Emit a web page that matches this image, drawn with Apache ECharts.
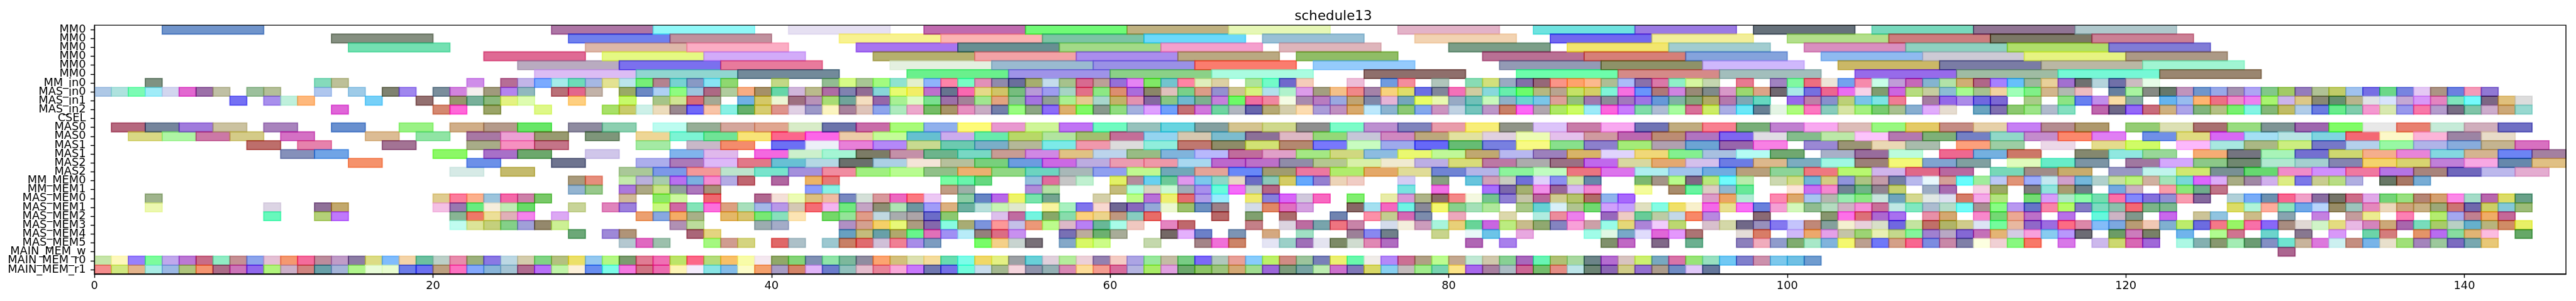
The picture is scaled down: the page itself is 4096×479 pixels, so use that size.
<!DOCTYPE html>
<html><head><meta charset="utf-8">
<style>html,body{margin:0;padding:0;background:#fff}#c{width:4096px;height:479px}</style>
<script src="https://cdn.jsdelivr.net/npm/echarts@6/dist/echarts.min.js"></script>
</head><body><div id="c"></div>
<script>
const chartTitle = 'schedule13';
const rowLabels = ['MM0','MM0','MM0','MM0','MM0','MM0','MM_in0','MAS_in0','MAS_in1','MAS_in2','CSEL','MAS0','MAS0','MAS1','MAS1','MAS2','MAS2','MM_MEM0','MM_MEM1','MAS_MEM0','MAS_MEM1','MAS_MEM2','MAS_MEM3','MAS_MEM4','MAS_MEM5','MAIN_MEM_w','MAIN_MEM_r0','MAIN_MEM_r1'];
const rowDurations = [6,6,6,6,6,6,1,1,1,1,1,2,2,2,2,2,2,1,1,1,1,1,1,1,1,1,1,1];
const xTicks = [0,20,40,60,80,100,120,140];
const xMax = 146;
// each run: [start, colour of 1st bar, colour of 2nd bar, ...], consecutive bars follow each other
const mm0a = [[4,'7094cb'],[27,'ad75a5','90f8f8'],[41,'e6e0f2'],[49,'c06aaf','70fb76','bfb180','e6f7b6'],[77,'e3b3c8'],[85,'6ee3e0','9b7ae3'],[98,'62717b'],[105,'77d9bc','907493','afc8cc']];
const mm0b = [[14,'858f80'],[28,'7080ee','c0919e'],[44,'f8f290','fcb3b3','7cc4a4','6cd9fa'],[69,'99c0d6'],[78,'f2d3b2'],[86,'7268ef','f2ee9a'],[100,'b3df8b','cc7d7e','7c7865','cb8095']];
const mm0c = [[15,'74e0b2'],[29,'deb8a9','fbadc4'],[45,'a875f0','688f92','a2da88','f4a0cd'],[70,'deb5bb'],[80,'7b9e88'],[87,'f2e66e','a1ccd0'],[101,'d98fbf','8fd1c0','b0de6b','817cd6']];
const mm0d = [[23,'df6a94'],[30,'e5f983','d2abf9'],[46,'b5b06e','f3a2a6','aa8ded','baa982'],[71,'90bd66'],[82,'b97094','d67f78','85a3dc'],[102,'8fbaf0','cdcad5','e6f382','ac9986']];
const mm0e = [[25,'b9abc0','7b70ee','e87a9c'],[47,'e4f0e0','9abad0','9a91e6','fb7c6e'],[72,'95cbfc'],[83,'939ab5','8e9268','cfb8fc'],[103,'cbb862','7a7ca5','bab7a4','a0f5d2']];
const mm0f = [[26,'dcbcf4','90d6d0','728a9a'],[48,'6af08c','9f93e8','8bd187','aafce0'],[75,'8f6f6c'],[84,'6dfdab','d58a88','a2bebc'],[104,'976bea','9fbca3','76f8d6','9a8670']];
const mmIn0 = [[3,'7f9282'],[13,'85dabb','bdc098'],[22,'cf8de9'],[24,'b66d96','c2b5e8','7aaaff','a5ecea','6edbb8','a6b8e4','e3e292','bbe5ec','76ee78','b48390','77d2d2','8899c4','88e4f4','8ed870'],[40,'c2d886'],[43,'92bc92','d6fb88','a8c794','a2fb80','90e3d0','e3f0cc','8fb4fb','fd84a8','78fcc4','e290b8','908aac','6a6e9c','a6ae6e','c4dcec','a6c28c','d86a90','bca097','9570d8','e484f4','80e860','72c4ce','ff84a4','dfeebc','dcd0a4'],[68,'ade49a','72fbc8','7069cc','f5ccba'],[74,'edbdd8'],[76,'709bdf','f48d9c'],[79,'b0c5bb'],[81,'88dcb4','d2e07c','9aaac2','8270a8','966878','fa9488','fea36c','fcb98e','aebe94','abbcf8','8a70aa','da78a8','8ff0c8','d6f8a0','c4d6b0'],[97,'e87a90'],[99,'a082c0','80f8a0','ee6e80','ede5d8','74a2ee','f68aac','c8fee8','c09cd8','c668b8','84b4d0','b2e2a8','d0ae74','b06088','a680ff','66c0fa','9cb89c','e8d09a','a270d0','6e7070','b5d4dc','7070a8','ccbcc0','e6fce8']];
const masIn0 = [[0,'aec8e6','aee2de','7cfbb4','a0ecf8','d2d6ef','e268d0','9c70a8','c0c0a4'],[9,'9cc09c','b4bf98'],[13,'afc6ee'],[15,'9ecbe8'],[17,'7f8270','a087ee'],[20,'7a8e9c','d283de','f5f0ee','a09a7c','b484ee','90b8be'],[27,'b97078','e3658c','c2b2a8'],[31,'9aaa66','6c88c4','aed0f4','8efc80','9ec4de','ad6884','b0cc9e','f6ac82','a59068','66d6a8','d0b6da','baba8c','ae6ca4','8082b0','926c94','88d6d8','e8fb70','f2ee62','bf70cc','66748f','f968b0','e4da88','d0c468','76bd7e','b89ad8','9e9cf0','a6d4c4','e27088','8ce884','dc8e70','aa6cdc','8a8668','dfc0bc','78d08a','dc9c88','9490d0','cdc490','d6f27e','b2e0ec','b0f2cc','dc9cea','a39e80','f4c088','f08888','a482a8','f8d27c','dede6a','6c70e4','80869a','f470b8','d0cca0','88d8dc','68eeac','6cfc6c','b6b880','b8a490','c4e264','d4ce66','80f4d8','f670e0','6a94fc','ae7878','d084e0','988a76','7f8a8a','d898c8','9bd870','dca488','706870','aae8e8','7670e0','ec6690','ea6ef0','f6d2e8','809c70','cc64e0','b6dc80','c6cda0','8cbcd4','a8fb90','a6c290','f2d2a0','a0ffb8','80f088','d2b68c','b0bab0','ecbcc0'],[119,'64809f','a8f4a0','868a84','66786a','c094bc','7096cc','98a8e8','a490b0','aea4f4','82c88a','a2ca64','947cbc','b0c294','c0cc68','a0c2ee','766ee4','6cd888','7884e0','e4c8f4','ac9484','6c80e0','f49ab8','9078d4']];
const masIn1 = [[8,'7470f4'],[10,'a88fec','bff0dc','feb87c'],[16,'76d0f8'],[19,'937070'],[21,'96966c','78b09a','8ab87c','e4f282','defcb0'],[28,'fecf80'],[31,'c6fa6a'],[33,'a6c488','d0e494','d66a78','a4a894'],[38,'70b0e4','d4c868','ecf6d4','9e7080','b892b8','a8dc74','70a49a','f4dec0','9664a8','a8f094','dcfbc4','7ae090','9c70a8','a38298','a0e690','e2a480','88c294','a474e0','909f94','aaf090','e6ca90','a8d6cc','c2b268','e292b0','8468a0','88c684','70b8d0','7cb090','c480da','6cfb60','f06ea0','f088a0','f4fce4','a88aae','b87cc0','9aa8e0','c0a472','8088a8','e4b4d6','74a6bc','e8fe58','e8f8b0','98aac4','70c0b8','c8f8bc','90b0c8','6cd4d0','7ac6e8','dca098','94c07c','a078b0','8c8c98','a278bc','9e74e4','6498d8','7fb4a4','84a478','b0aa64','b478ac','7ea8b4','64d8c0'],[100,'9868ec','bc80a8','8890cc','bcd078','7ac4e8','7ee4e4','f07c94'],[108,'a47ca0','9468e8','ac8ce8','7068e0','7c68d4'],[114,'a8cc88'],[116,'8ce484','6880f0','c08eea','f8dca4','88aca2'],[122,'62b4ee','98bcee','feb470','ec7084','ee8ac8','ec80f0','a8f470','ccb4ec','dcc888','888874','669070','b8b48c','e0e2e6','d8e4fc','c4a8d4','d898f8','e484c0','80e4bc','74fafc','7c6484','e0c07c','dcdcdc']];
const masIn2 = [[14,'e062d8'],[20,'d48870','ff68d8'],[23,'9aa468'],[26,'def888'],[30,'a8e068','c8cc6c','cdf0e8','ecdcbc','9a8890','7068f8','f8c4a8','88f0e4','66b06c','d6cc70','de948c','e0d0e4','9c98c8','fbf4c0','a8829c','dec4ba','8ea4ec','aeeabe','eca8cc','74bc60','a89468','e690c0','c8acc4','7480aa','98fc80','8ca684','8c6cf8','dcb06c','80f860','88988c','90dc80','a4b0de','dea0ff','70a0fa','c47074','d078dc','6ed4a0','b0b6c0','6866ac','b6aa74','d4ceac','fcdcb0','aa9cd8','c090c0','d8a96c','bce8fc','8cb4d0','8cc874','84a8ec','cc94c0','c0d2e2','74c4bc','bc96c8','c88068','fc68f4','b0a6ae','aee866','ccfc60','9ceaf8','fc64dc','c87cfc','80dca8','aebcd4','a8fca0','d87098','ccec58','aaaee4','6ce8f8','688094','e4f4e4','aefc7c','fc78c0','88ccbc','d6e4a4','a4f080','78cc70','a8c090','88aed0','e0acfc','e6dcd0'],[111,'6aa4c0','8070b0','8cc870','9ce488','b0bacc','84dfc0'],[118,'be60ac','6e6888','9468f8','c86c7c','ceb080','aca4e8','80b47c','b4c084','78f070','84f4e4','84b878','c0bc60','b0cce8','6c7ce0','68ec8c','80ccac','f498d0','d8e8b0','9898ec','f878a8','b49ccc','786e84','80c4a8','ccaccc','cca878','98d8d0']];
const csel = [];
const mas0a = [[1,'b5687e','75859c','a07bdc','cbc2a0'],[10,'a883bd'],[14,'6990cf'],[18,'9af285'],[21,'d0ae88','b49a8a','68e668'],[28,'8e8ba0','8ccfb0'],[33,'bcfcf0','96ae96','d4a69c','e0a690','d8ecc8','6c74aa','c86ca8','a8fb78','90b0ec','fefb78','e898d0','cff598','c074f4','70fbc0','96c2bc','68d4e0','84a0a0','d4c490','cfd88c','8e8e8e','7cfcc8','bc90d0','8084bc','e89caa','f8ee78','909488','dcc4fa','c87ca8','f8a8f0','7074b4','c0ac80','f88090','78ae78','c080d0','f8a8f0','dcbcb8','98f880','e4ca66','c48c84','e6d0a8','c680f4','b48c90','ae986c'],[120,'94cc74','dce0b4','a87070','98dc80','7e9494','9e64ae','80fc64','e8e8e8','e88070','c6ebd8','d0aebc','7070c4']];
const mas0b = [[2,'d9d884','aef5a4','cc78a6','d4cb88'],[11,'d470c4'],[16,'dcbc94'],[19,'90e4a4'],[22,'a878a4','eca0d4','989a70'],[29,'7e967a'],[32,'eed696','7cf4d4','70e496','f8e478','fc648c','fc64e8','eccca8','c4fc98','66c0d0','ccacec','68eaac','b8d868','b2e4a0','a2be70','c46e98','94d4f0','d6c8b0','7cbcce','8c7098','deb8c4','94d878','c6c6d8','d088c0','bca87c','e2e2a0','e0d0e0','ecfcb4','e4c0ec','d09aa0','bc68b0','bc8c74','b074c0','7e60f0','e0dce4','84bc8c','bce8a8','fcc4fc','b478b0','7eb078','7480c4','90d8c8','c48ccc','fc886c','e07ef4'],[121,'7090e8','e0dc80','d868f4','a4dff4','b8e4e4','80d4e0','f46874','fcf8c8','fcb4d8','9c84a4','e8dcc8']];
const mas1a = [[9,'bd6e6b'],[12,'e682ac'],[17,'a37394'],[22,'a8ac88','f690c0','c47488'],[32,'a4eaa4'],[35,'c8b8c8','f48c6c'],[40,'6c70f4','ecf0f8','e880d8','b488f8','c8da90','6ccab0','7aaec8','b4b898','7ceae8','f098ac','dcdcdc','90eedc','c07870','8e8c68','d2e274','b48870','7878fc','c8fcc0','9eaaec','6468f8','64bc74','7880e0','f8fa84','88e08c','8c80cc','a4ec78','b0a0b0','6ca4d4','9860ac','f880e4'],[101,'9a88d4','9a9474','ead8b4','a8bcac'],[110,'fca07c','9ccea4'],[115,'ecd8e8'],[118,'e4dc8c','d0fc60'],[123,'fcb8fc','a8e8e0','aab884','ccee80','7678c8','b4d0ec','98f8a4','b0b4e8','88acdc','c4b490','d870c0']];
const mas1b = [[11,'8590ba','70a4e6'],[20,'8cf862'],[23,'a870c8','6ca86c'],[29,'d0c6ea'],[34,'80b4ec','e0b8ec'],[39,'f468e0','ccf0cc','a4f5d4','7c7c64','c490a8','6cb48c','78d8c4','c89c94','d088e4','e0c284','bcd4ec','98bc84','80b4dc','b8b8fc','c06c9c','e0a0c8','a4e884','d0d880','8cbce0','eaf870','c0f898','c0a870','b8b8f0','9c80bc','d8b468','e0d4fc','f0d878','84f090','a8c0e0','b4fcf4','70a870'],[102,'a8b0c8','986c9c','bcfcdc'],[109,'ee6890','74b0e0','cc7868'],[117,'84886f','90e8e0','98d898'],[124,'f6ac74','747480','a8f4b8','7470d0','ced870','f5ae8c','e884d8','84d8e0','d4b490','6c84f4','a480a0']];
const mas2a = [[15,'f5926c'],[22,'6c90e8'],[27,'6e748f'],[32,'acaeec','ac7ab8','ddb8f8','e27888','68c0d4','b4d8e4','6a706c','acd0e4','f4e4d8','b6c09c','78d07c','6c9ce0','cc68e4','bcace0','ec9cb0','ee98a8','a8d8f0','bc68cc','bc70c8','908ca8','b4c890','d8f0a8','f0ead0','bcaee4','d8dc78','bc78a4','acacac','9a7084','c068ec','d8d8a0','e4a870','d4c0ec','6c7ce4','dcb88c','7cacc0','a0f8e4','9c8078','f4f878','80a4d0','80a0a0'],[113,'e0fcbc','68ecc8','7c94a4'],[120,'a078a0','d4a8fc','8cc888','708870','b0e8d0','a4d0d0','8484b0','f4d46c','d8d470','c080d8','f8a8e4','6488ac','e0c084']];
const mas2b = [[21,'d6eae6'],[24,'c4ba6c'],[31,'aac898','7c98e8','f49898','bce4cc','78e4cc','a490dc','f08ca0','a0f080','b8fc90','90c088','ecb070','90d884','6cd4c0','a8b8b8','90a0f0','c0f890','70a8b8','e4a498','6888f8','a09c70','ec78a0','b0ec6c','e4a868','e0dc98','7084d4','b4b4e8','8cf49c','c0fcc0','ec7480','dc74ec','aeeef0','a0c4ec','70ace0','b8a07c','8cd498','ee7880','b8f870','d0b4ec','e06888','b868a0'],[112,'78d8b8','a08c88','c8ac6c'],[119,'9898c4','c0f4ec','d0e870','789094','64d870','f08cc8','d090fc','f078a0','b474e4','a8847c','7068bc','bcb8ec','e4acd0']];
const mmMem0 = [[28,'a89a7c','e68e7c'],[31,'c4eaac','bab0dc','a8ccac','b870f0','7cb0e0','f48cd0','b4ace4','c06470'],[40,'b064a0'],[42,'ecb464','e67878'],[50,'78fca4','68f4ac','64d880'],[55,'94c0dc','e06c9c','c6c6c6','c0f0d0'],[60,'e2f060','b48c9c','68d0f0','6cc898','e098ec','7cc8ec','8cd8c8','e8d8c4','6c6cc4','8cc8b8','d4cc64','64a8fc','9480d0','ecd4b8','f0ccc4'],[77,'d4ccf4'],[79,'88a080'],[81,'68c4dc','d0a0b8','c8ccc0','7070d8','e0d0fc','8c90f0','cee4a4','6488aa'],[91,'7cb870','a49488','b8fc8c','806884','b8e87c','70fcfc','b8ecac'],[99,'ccd8b0','d0dc88','70b4d8','d4cc84','9094dc','acc484','c49ca8','7480a4','b8b8ec','e8f8fc','d4a098','68fcfc','a0ec9c','bcc8f4','e09478','9cacfc','c4e8f0','d0a0cc','74b8dc','b0d0cc','c8e0a0','bcf47c','d0b0a0','a4e4b8','78d8d8','dc64fc','dcacf8','a8ac84','a088a4','d0b0ec','dcec84','7c78e8','c8cc90','b8dc84','b0aee0'],[135,'687866','a87860','78acd4']];
const mmMem1 = [[28,'94b4d0','98c88c'],[31,'ac78dc','aca884','c8e488','90a09c','ac78bc','a89078'],[42,'8c9cfc','88f0e4'],[50,'c09c84','9cb0a8'],[55,'b08cd8','b4e0a4'],[60,'c4bc7c','b0fcdc','d8d4c0','ccf8d4','a0acb8','a890ec','68fcdc','f46cf8','c0ccc8','b46484'],[77,'78e4e0'],[79,'f070e4'],[82,'a870fc','7c68ac','a4b070','f090e8','985c98','d8b8f0','f088d0'],[91,'f4fc9c'],[93,'a88c6c','68f4a0','dcccc4','90b8d0','68e898'],[100,'fce4d8','c870f0','f488d0','708494','70b488','908490','c4d070'],[108,'9cacc4','a86cb0'],[111,'f6d0e4','9ca864'],[114,'807c80','90e4dc','a89c70','6e8088'],[119,'74a8e0','ccb0c0'],[122,'f89ca8','8ce878','70ac8c','c07488']];
const masMem0 = [[3,'9fb48c'],[20,'dfcc90','fc7c9c','fcb08c','9cc4dc','f468a8','cc80a8','78c868'],[31,'d0b898'],[33,'8ce868','ccf8a0'],[36,'f06870'],[39,'b06890','f4e0d8','ecfcb4','dcc080','f0bca4','7888c0','d4e0d8','d8989c','ec68c0','fc7880','ecc8f4'],[51,'8ccca4','6484c4','b868e8','eef468','78e4ac','74a490'],[59,'d4cfa8'],[61,'bcfc88','b870d8','eef070','e46c70','b09ce8','98ecfc'],[68,'eeea70','8880dc','d864f8','d0c8dc','f868c0'],[74,'80ee70'],[76,'e8eca8','d898d8','aeb488','8a6c68','f48888','f4f8e0','74c490','9080d4','c4c4a8','b8689c','d0cc90','b4c46c','b06c68','90b4ec','a868fc'],[95,'dc9cc8','eca464','b0ecd4'],[99,'fc88b0','dca86c','a8c4f0','b4b8b0','98ecb0','8ce884','c8e4dc','70a4bc','d4d890','e0e8e4','dce0f0','d47c68','f4a8e8','b4e480'],[114,'74dc74','d89cf8','b0e8c8','8cfca8','74dcb0','fc70a8','8488fc','8470dc','9090d4','f89cb0','84689c'],[126,'b0d0d8','78acf8','6c90b0','f86490','f0a0c8','886ca0','747468','cc6c88','e0a8e8','74d478','98e080','b48474','d4a070','fc88e8','a4dcc8','b864ac','dcdc64','68a088']];
const masMem1 = [[3,'ecf8b0'],[10,'dcd4e4'],[13,'8f7098','c2a86c'],[20,'f4c0e4','9878b0','68ec80','f6eedc','c0ecb4','68dc68'],[28,'c8d498'],[30,'e084bc','9c80dc'],[33,'c8f880','d068a4','84e4b8','fc70dc','dca080','a8dfbc','a4b8e8','b898e8','d4c8b4','f46c74','f4b4f0','70e880','c4a4c4','8e8e74','aee4b4','6e96a0','a09cf8','dcb080','6cb0a0','b8e0dc','c8f4b4','e0e8cc'],[56,'f8f4a0','a8f0c0','8074ec','f8d8d0','706894','8868bc','94a8d8','ecf8d0','9cc06c','6c90c0','9c8088'],[68,'d4dce8','e08860','e070c0','d4a0e0'],[74,'886864','a4e0f0','f468c0','70f4e4','888898','f4f870','88d08c','a4e0b8','b0e89c'],[84,'a8c888','64d0d4','d8f0f8','b0c490','70d870','d0a0fc','c4a0fc','e0e0c0','84fce4','f0e068','f8f0cc','f468e8','e8e090','f870f4','6880dc','f4a0d4','d4f8bc','90bc90','b4dcc0','d0b0c4','f490d8','c87098','c0e8e4','80e8c0','acbcd0','b4dcc8','74fcf8','a89094','88fc84','b898f0','6474c8','f884a8','b4fc48','847cc4','7cdcc0','8cc0ac','f46874','7cb488','7cb890'],[126,'dcdc64','b0f4d8','feac9c','8ce4bc','70a8e8','b8d4fc','988c64','9cc4bc','e488bc','ecd8bc','cca47c','c8b084','9ca878','cc7474','7068ac','ccd064','84c8d8','9cbc78']];
const masMem2 = [[10,'68f8bc'],[13,'b4d078','c078fc'],[21,'88b494','ee7868','ecdf98','e0b0b8','f484ec'],[27,'dca8f4'],[32,'eca070','88a8e0','f4ac64','a8b088'],[37,'e4b868','d8c470','78e874','88e0bc','fce4b4'],[43,'74d868','94e498','e09c88','c0d8e0','a8acae','aca4a8','6c6cc8','8cc870'],[53,'dcc0ec','c06ca0','74f4e0','88a868','88dcac','fcd07c','ecd48c','c09880','88ccc0','e86c68'],[66,'b86868'],[68,'80a070'],[70,'ac6c6c'],[73,'7084b0'],[75,'fc90a8','c4cc90','d468b4','7c8cac'],[80,'eca8bc'],[83,'dcd8ac'],[85,'b0ece0','ec8c9c','ec80ec'],[89,'9868bc','eeccc4','68cc98','bccca4','c4d8e8','f88868','b888e0'],[98,'8a6a74'],[102,'88966f','fc70e8','dc7078','ac68d0','a870f0'],[108,'e890a8','d4a870'],[111,'f888cc','74d874','eca894','bc70c8'],[116,'b870e8'],[118,'64f8dc','ccb4c4','80988c'],[122,'c868ec'],[124,'ccc498','90c4e0'],[127,'ccbc88'],[129,'88a4b0'],[131,'c480e0'],[133,'c49c9c','ecec90'],[136,'fc80b4'],[138,'b4ec70','a4a8f0','c08090','f0ac5c','c46898']];
const masMem3 = [[21,'c0fcf0','dce498','c4d07c','84d088','a0a0d8','94886c','ccf094'],[34,'b090b4','bcdc9c'],[39,'9cacb0','a4acc8'],[44,'b090c4','d4a090','f4d068','e8f878','ac9c80','8468ac','88fce0','a8ac74','7c94dc','fc9898','c4c0e8','ec9878','bcfc8c','dcb8c8','b880f4','68b898','a8fce8','f0c8c0'],[63,'e484c0','bf686c'],[68,'c48088'],[70,'dcd4e0','bc6ca0','78a4ac','ee7480','c884a8'],[76,'d4dcec','f4eedc','cc9cbc','a8f4dc','e8d078','68d498','c860e0','bcec80','c8bc8c','90a870','8484c0','f8a0d8','cca0a8','98fce8','e4d878','ac84d8','f0ccfc','bcd870'],[95,'d8c0cc','d4d8a8','706888','9890bc','8478f0','c4c4fc','c08878','84a09c','f4f0d0','e8d0dc','d8e0c8','7068e0','c4e4a0','c07068','b0b468','d0cc8c','dce4f4','74fc9c','e8b8a0','9068c8','9c6ce0','fc6c84','dc88a8','84bcf8','7ca8e0','b89c74','f0c8b4','80b0d0','bcec6c','6c6ce0','f47888','98f460','f870a8','8868f8','a88c80','e0d8d4','d0f4c8','e4dc80','e8b8e4','d484bc','cca878','a864ac','78dcbc','a8cc68','b8d0c4','64b0cc','b8b47c','d08c60','e8f064']];
const masMem4 = [[28,'6ca878'],[30,'9e88d8','b09478'],[35,'aa6478','e4d480'],[44,'68a0c0','c4bc7c','68a0a8','b0a86c','68f48c','e070b8','a090f4','b8ecf8','94807c','dc6c84','c890f0'],[57,'7870b4','bcac9c','6cb070','a8ac98'],[63,'746864','e4b0fc','6c80c8'],[67,'7c94b4'],[69,'d4a880'],[71,'a0e0c4'],[74,'9c8098','8888f0','70808a'],[79,'c8d48c'],[81,'e8f8f8','6cc4e8'],[84,'e8a8e0'],[88,'a0fce8','e0f8e4','78a8c8','e0dcfc','e060d8','e498fc','ac7474'],[97,'e4dcd8','d87c64'],[100,'cfb8f8','eca86c','e4a0e8','c4c4a8','9cd474','e8f0b4','c4d88c','84f49c','a080d0','b8a8c4','8468d4','c470b8','e4b474','d4cce4','f8a0dc','88ccf0','b898fc','6c6c74'],[119,'6c9c64','cc7cbc','788068'],[123,'70b4ec'],[125,'b0fc90','d07490'],[128,'6cd4cc'],[130,'887890'],[132,'d898f8'],[134,'6cd4a8','d47c7c'],[137,'e49468','b86cf0','88dca0','e0b474','fcbce0'],[143,'64a868']];
const masMem5 = [[31,'b4c8d0','e068c0','9cc0ac'],[36,'a4f880','d09c90','d4d480'],[40,'e06868','acc0c8'],[43,'9cc8d0','c88064','e06c70','d0c0d8','f08094','a88ce8','7c9cc0'],[52,'78fc68','f4d088','c8d4d0','787078'],[57,'84a8c8','d8f860','ccfc88'],[62,'c4d8ac'],[65,'a48488','f070d8','cc8468'],[69,'e4e4f4','9cd0c8','a070b8','e4e4f0','7c8a64','d0dcd0','e088b4','b06cc0'],[81,'b064b4'],[83,'a880ec'],[89,'80906c','c068c4'],[92,'806888'],[94,'6cb090'],[97,'8c80bc','f0acbc','909ccc','80ac70','a8e8c8','80b4dc','f4f870','bca090','7078f8','d4a088','f86490','7c8ce0','c888a8','8080a8','fcffe0','f0d0d4','88f880','f87868'],[116,'d878e8'],[118,'ccb8ec','ccd870','d868b4','a068d8'],[123,'acf8e4','84b0b0','889870','a4ecb4','6c9c74','8490c4','70e4d0','c8b49c','dc78dc','ccf0f0','c48e80','78b4e8','e8e0cc','a0e078','a484bc','9cc89c','7c6cc0','78a8b0','e8c878']];
const mainMemW = [[129,'ac6090']];
const mainMemR0 = [[0,'c6e5a8','fdf8bc','9880fc','7cfc9c','c0a8ec','bc78d4','c86c88','90ecc4','c69094','8ca4ec','e4c0d4','f49870','f46c9c','bc8c9c','c09cc8','8c7ca4','dcdc84','80bcfc','f4d4a8','6cc0a0','bcd0c8','e88cac','9cb07c','8a78e4','bcd8e4','d4ccac','80d484','b4c080','ece068','94c8f0','b4f884','7c9c70','e07c94','f070b4','bce468','fc6888','b4dc7c','f8c068','f8fca8','f4e8f0','90a868','84d478','8090b4','90e4a8','7cb89c','908ca0','fca470','d4c07c','dce0b0','f4dc9c','68dcb0','7cfce8','f0d868','e4f084','9ca0a4','68d0d8','e0d0dc','b4ec9c','ecd0d8','9480b0','f4ccc4','aca4e4','98e89c','c4bca4','78cc84','7c68f8','b0c8bc','e8a098','88ccfc','bcf068','d08c84','9cc49c','7880b8','ecf070','68f8ac','f0ece8','b488f8','cc7094','b0a084','bcfc90','c4a890','c0e8d4','d0c8ac','88d094','a868bc','68f4b4','b0c074','a8d8a0','6c8488','b46cd0','d8c4c0','ccf070','78a8c0','d874a8','98e478','98e0c0','70c8f4','8080cc','cc90ac','7cc8ec','70c0e4','709ccf']];
const mainMemR1 = [[0,'f48c8c','d0e880','e4b48c','a8ece4','9cb8e4','aec47c','f49470','ac6c88','cc74b8','9068ec','b0f47c','ccb0c8','d08480','68a0a8','a4b4d8','b0f48c','e8fcd8','e8fcd0','6c7ce8','6c70f0','bca080','fc70c0','84a8fc','88b4d8','a4c4d4','b06c90','b870f8','c0f4a8','fcf0d8','688ef0','7cfce8','f478e0','d07484','ec6cb0','fcf4b4','f4ecfc','88e4e4','84bce8','fcfcc8','f4a06c','a89cc4','d48468','e0b4f8','6c7ccc','90c0bc','e4bccc','e88498','f8a8d8','c878fc','7078b0','7470e8','70fcdc','c8dcec','a4b890','f4d4dc','9094ac','94b0b4','d888b4','fcdc98','f49c90','d86c9c','b4b4e0','a8ec64','e0a0e0','6ca86c','8cc464','9cc47c','d4a874','a0dc90','9c64d8','7c9c7c','78a4a4','bcecb0','cc70cc','8078b8','d8d860','88d0f0','c4bcbc','a0ec8c','78d4b0','fce488','a868ec','a880a0','acbcc4','cc6494','74bc6c','e48c84','bce4e8','6c8474','8c64b4','d0cc88','9470d0','ac9c8c','708cc4','e0c8f8','64789c']];
const allRows = [mm0a,mm0b,mm0c,mm0d,mm0e,mm0f,mmIn0,masIn0,masIn1,masIn2,csel,mas0a,mas0b,mas1a,mas1b,mas2a,mas2b,mmMem0,mmMem1,masMem0,masMem1,masMem2,masMem3,masMem4,masMem5,mainMemW,mainMemR0,mainMemR1];

const ALPHA = 0.6;
// the hex values above are the colours as seen on white; recover the colour painted at ALPHA
function baseColor(hex){
  const v=[0,2,4].map(i=>parseInt(hex.substr(i,2),16));
  const b=v.map(x=>Math.max(0,Math.min(255,Math.round((x-255*(1-ALPHA))/ALPHA))));
  return 'rgb('+b.join(',')+')';
}
const barData=[];
allRows.forEach((runs,row)=>{
  const d=rowDurations[row];
  runs.forEach(run=>{
    for(let k=1;k<run.length;k++){
      const s=run[0]+(k-1)*d;
      barData.push([s,s+d,row,baseColor(run[k])]);
    }
  });
});
barData.sort((a,b)=>a[0]-b[0]);

const chart=echarts.init(document.getElementById('c'),null,{renderer:'canvas'});
const font='"DejaVu Sans"';
chart.setOption({
  animation:false,
  backgroundColor:'#fff',
  title:{text:chartTitle,left:2115,top:10.5,textAlign:'center',
    textStyle:{fontFamily:font,fontSize:21.4,fontWeight:'normal',color:'#000'}},
  grid:{left:150.2,right:16,top:40.1,bottom:43,show:true,borderColor:'#000',borderWidth:1.43,backgroundColor:'transparent',z:5},
  xAxis:{type:'value',min:0,max:xMax,position:'bottom',
    splitLine:{show:false},
    axisLine:{show:true,onZero:false,lineStyle:{color:'#000',width:1.43}},
    axisTick:{show:true,length:6.2,lineStyle:{color:'#000',width:1.43},customValues:xTicks},
    axisLabel:{color:'#000',fontFamily:font,fontSize:17.8,margin:10.6,customValues:xTicks}},
  yAxis:{type:'category',inverse:true,data:rowLabels,
    splitLine:{show:false},
    axisLine:{show:true,onZero:false,lineStyle:{color:'#000',width:1.43}},
    axisTick:{show:true,alignWithLabel:true,length:6.2,interval:0,lineStyle:{color:'#000',width:1.43}},
    axisLabel:{color:'#000',fontFamily:font,fontSize:17.8,margin:13.7,interval:0,hideOverlap:false}},
  series:[{type:'custom',clip:true,
    encode:{x:[0,1],y:2},
    data:barData,
    renderItem:function(params,api){
      const a=api.coord([api.value(0),api.value(2)]);
      const b=api.coord([api.value(1),api.value(2)]);
      const h=api.size([0,1])[1];
      return {type:'rect',
        shape:{x:a[0],y:a[1]-h/2,width:b[0]-a[0],height:h},
        style:{fill:barData[params.dataIndex][3],stroke:barData[params.dataIndex][3],lineWidth:1.8,opacity:ALPHA}};
    }}]
});
</script></body></html>
